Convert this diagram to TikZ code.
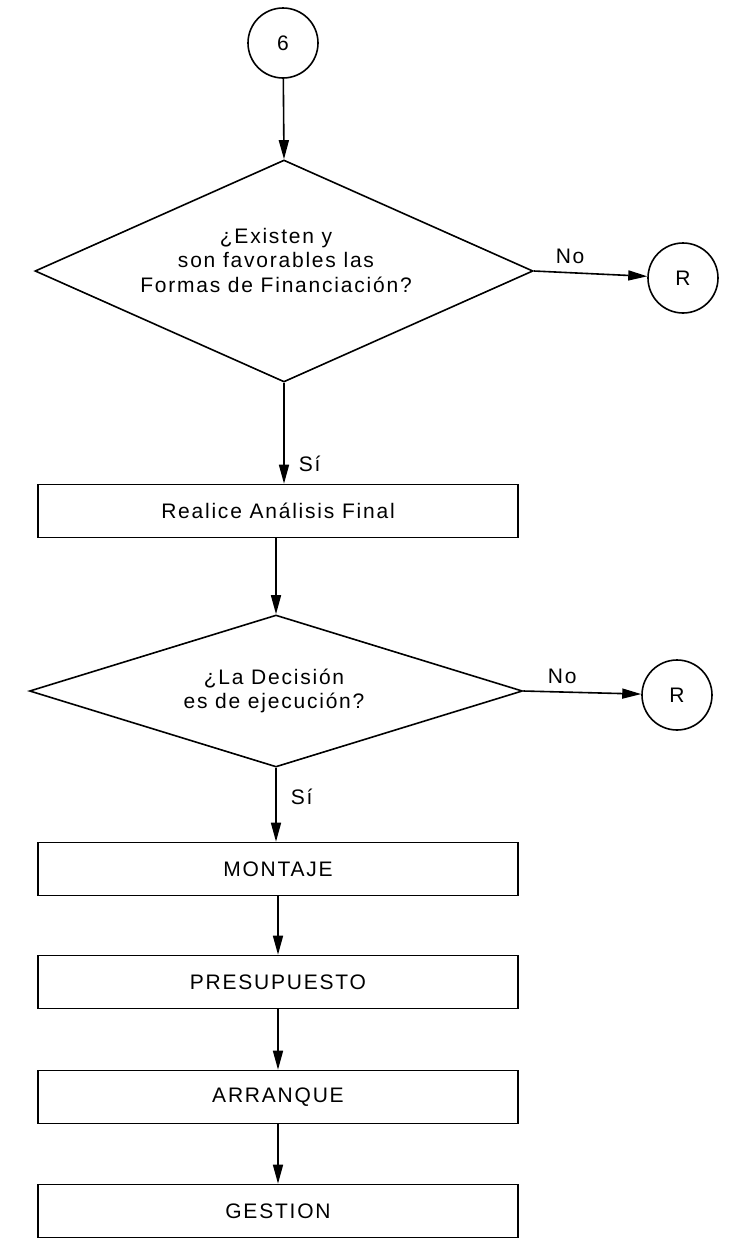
\documentclass[tikz,border=0pt]{standalone}
\usepackage{fontspec}
\setmainfont{Liberation Sans}[LetterSpace=8.5]
\usetikzlibrary{shapes.geometric,arrows.meta}
\begin{document}
\begin{tikzpicture}[x=1pt,y=-1pt,
  every node/.style={font=\fontsize{21}{24.5}\selectfont},
  line/.style={line width=1.6pt},
  conn/.style={line, -{Triangle[length=19pt,width=10pt]}},
  connector/.style={draw, circle, line, minimum size=70pt, inner sep=0pt},
  decision/.style={draw, diamond, line, inner sep=0pt, aspect=2},
  process/.style={draw, rectangle, line, minimum width=480pt, minimum height=53pt, inner sep=0pt},
  lbl/.style={inner sep=0pt}]
\useasboundingbox (0,0) rectangle (729,1240);

% start connector
\node[connector] (c6) at (283,43) {6};

% first decision
\node[decision, minimum width=498pt, minimum height=222pt] (d1) at (284,271) {};
\node[lbl, align=center] (d1t) at (276,260) {¿Existen y\\son favorables las\\Formas de Financiación?};
\node[connector] (r1) at (683,278) {R};

\node[process] (b1) at (278,511) {Realice Análisis Final};

% second decision
\node[decision, minimum width=493pt, minimum height=152pt] (d2) at (276,691) {};
\node[lbl, align=center] (d2t) at (274,691) {¿La Decisión\\es de ejecución?};
\node[connector] (r2) at (677,695) {R};

\node[process] (b2) at (278,869) {MONTAJE};
\node[process] (b3) at (278,982) {PRESUPUESTO};
\node[process] (b4) at (278,1097) {ARRANQUE};
\node[process] (b5) at (278,1211) {GESTION};

% connectors
\draw[conn] (c6) -- (d1.north);
\draw[conn] (d1.south) -- (d1.south |- b1.north) node[lbl, pos=0.8, right=14pt] (s1) {Sí};
\draw[conn] (d1.east) -- (r1) node[lbl, pos=0.32, above=8pt] (n1) {No};
\draw[conn] (b1.south -| d2.north) -- (d2.north);
\draw[conn] (d2.south) -- (d2.south |- b2.north) node[lbl, pos=0.4, right=14pt] (s2) {Sí};
\draw[conn] (d2.east) -- (r2) node[lbl, pos=0.33, above=8pt] (n2) {No};
\draw[conn] (b2) -- (b3);
\draw[conn] (b3) -- (b4);
\draw[conn] (b4) -- (b5);
\end{tikzpicture}
\end{document}
